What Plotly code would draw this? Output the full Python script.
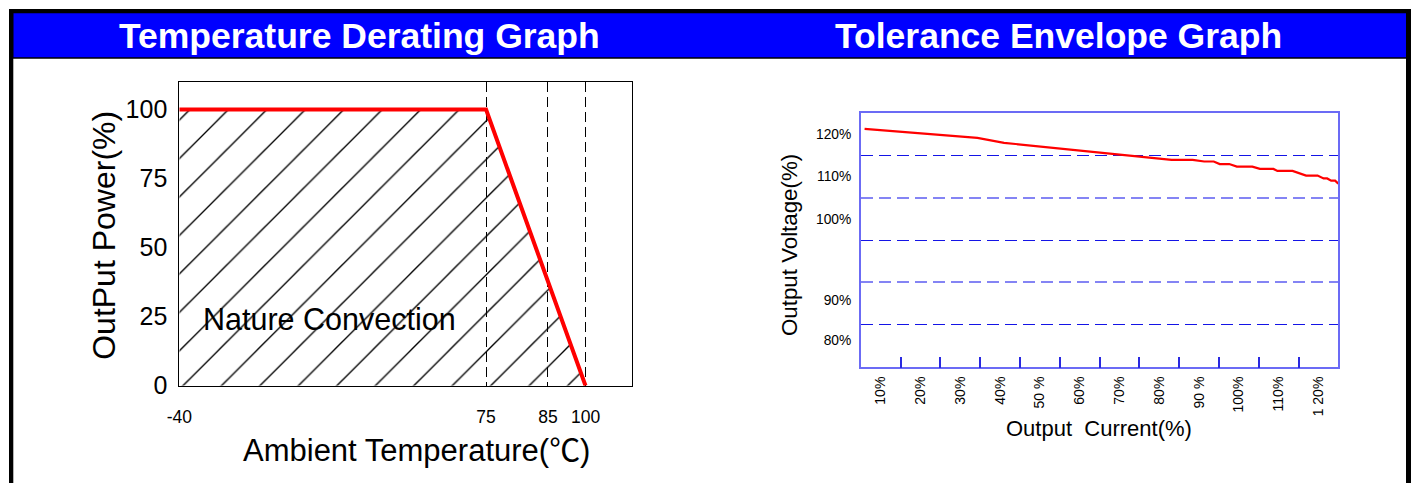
import numpy as np
import plotly.graph_objects as go

# ---------------- data ----------------
# Temperature derating (left)
temp_c = [-40, 75, 100]
power_pct = [100, 100, 0]
temp_tick_labels = [-40, 75, 85, 100]
power_ticks = [0, 25, 50, 75, 100]

# Tolerance envelope (right)
current_pct = [5.95, 34.3, 41.0, 83.1, 88.4, 91.3, 93.7, 95.2, 97.6, 99.5, 103.4,
               105.3, 108.7, 109.7, 113.5, 116.9, 119.8, 121.3, 122.2, 123.2, 124.2, 125.0]
voltage_pct = [121.2, 119.06, 117.9, 113.9, 113.9, 113.5, 113.5, 112.9, 112.9, 112.3, 112.3,
               111.75, 111.75, 111.27, 111.27, 110.17, 110.17, 109.5, 109.5, 108.99, 108.99, 108.28]
current_labels = ["10%", "20%", "30%", "40%", "50 %", "60%", "70%", "80%", "90 %", "100%", "110%", "1 20%"]
current_label_vals = [10, 20, 30, 40, 50, 60, 70, 80, 90, 100, 110, 120]
voltage_labels = ["120%", "110%", "100%", "90%", "80%"]

# ---------------- layout helpers ----------------
W, H = 1411, 483
def px_x(p):
    return p / W
def px_y(p):
    return 1 - p / H

# Left x axis is drawn schematically (non-uniform tick spacing): scale table
T_SCALE = [-40, 75, 85, 100]
T_POS = [0.0, 67.72, 81.37, 89.67]   # percent of axis width
def t_pos(t):
    return list(np.interp(t, T_SCALE, T_POS))

# voltage label anchor positions on the right axis (schematic)
voltage_label_pos = [120, 110, 100, 80.9, 71.3]

FONT = "Arial, Liberation Sans, Noto Sans CJK SC, sans-serif"

fig = go.Figure()

# Left: hatched area + red derating line
fig.add_trace(go.Scatter(
    x=t_pos(temp_c), y=power_pct, mode="lines",
    line=dict(color="#ff0000", width=4),
    fill="tozeroy", fillcolor="rgba(0,0,0,0)",
    fillpattern=dict(shape="/", size=27.2, solidity=0.05,
                     fgcolor="black", fgopacity=1, bgcolor="rgba(0,0,0,0)"),
    xaxis="x", yaxis="y", showlegend=False, hoverinfo="skip"))

# Right: output voltage curve
fig.add_trace(go.Scatter(
    x=current_pct, y=voltage_pct, mode="lines",
    line=dict(color="#ff0000", width=2.2),
    xaxis="x2", yaxis="y2", showlegend=False, hoverinfo="skip"))
# helper (empty) trace to host the grid overlay axis
fig.add_trace(go.Scatter(x=[], y=[], xaxis="x2", yaxis="y3", showlegend=False))

BLUE_BORDER = "#6b6bf5"
GRID_DARK = "#1414e6"
GRID_LIGHT = "#8484f4"

fig.update_layout(
    width=W, height=H, autosize=False,
    margin=dict(l=0, r=0, t=0, b=0, pad=0, autoexpand=False),
    paper_bgcolor="white", plot_bgcolor="white",
    font=dict(family=FONT, color="black"),
    xaxis=dict(
        domain=[px_x(179.3), px_x(632.3)], anchor="y", automargin=False,
        range=[0, 100], tickmode="array",
        tickvals=t_pos(temp_tick_labels), ticktext=[str(v) for v in temp_tick_labels],
        tickfont=dict(size=17.5), ticks="", ticklabelstandoff=15,
        showgrid=True, gridcolor="black", gridwidth=1, griddash="10px,5px",
        showline=True, linecolor="black", linewidth=1, mirror=True,
        zeroline=False, fixedrange=True),
    yaxis=dict(
        domain=[px_y(385.7), px_y(81.7)], anchor="x", automargin=False,
        range=[0, 110.1], tickmode="array", tickvals=power_ticks,
        tickfont=dict(size=25), ticks="", ticklabelstandoff=6,
        showgrid=False, showline=True, linecolor="black", linewidth=1, mirror=True,
        zeroline=False, fixedrange=True),
    xaxis2=dict(
        domain=[px_x(860.8), px_x(1338.3)], anchor="y2", automargin=False,
        range=[5, 125], tickmode="array", tickvals=current_label_vals, ticktext=current_labels,
        tickangle=-90, tickfont=dict(size=14), ticks="", ticklabelstandoff=2,
        minor=dict(tickmode="array", tickvals=[15, 25, 35, 45, 55, 65, 75, 85, 95, 105, 115],
                   ticks="inside", ticklen=11, tickwidth=1.5, tickcolor="#2a2ae0", showgrid=False),
        showgrid=False, showline=True, linecolor=BLUE_BORDER, linewidth=1.5, mirror=True,
        zeroline=False, fixedrange=True),
    yaxis2=dict(
        domain=[px_y(367.3), px_y(112.7)], anchor="x2", automargin=False,
        range=[65, 125], tickmode="array", tickvals=voltage_label_pos, ticktext=voltage_labels,
        tickfont=dict(size=13.8), ticks="", ticklabelstandoff=5,
        showgrid=False, showline=True, linecolor=BLUE_BORDER, linewidth=1.5, mirror=True,
        zeroline=False, fixedrange=True),
    yaxis3=dict(
        overlaying="y2", anchor="x2", range=[65, 125], automargin=False,
        tickmode="array", tickvals=[115, 95, 75], showticklabels=False, ticks="",
        showgrid=True, gridcolor=GRID_DARK, gridwidth=1, griddash="12px,6px",
        minor=dict(tickmode="array", tickvals=[105, 85], showgrid=True,
                   gridcolor=GRID_LIGHT, gridwidth=1.5, griddash="12px,6px"),
        showline=False, zeroline=False, fixedrange=True),
)

# Frame / banner shapes
shapes = [
    dict(type="rect", xref="paper", yref="paper", x0=px_x(9), x1=px_x(1411), y0=px_y(58.7), y1=px_y(9),
         fillcolor="black", line=dict(width=0), layer="below"),
    dict(type="rect", xref="paper", yref="paper", x0=px_x(13.3), x1=px_x(1406), y0=px_y(57.3), y1=px_y(13.3),
         fillcolor="#0000ff", line=dict(width=0), layer="below"),
    dict(type="rect", xref="paper", yref="paper", x0=px_x(9), x1=px_x(13.3), y0=0, y1=px_y(9),
         fillcolor="black", line=dict(width=0), layer="below"),
    dict(type="rect", xref="paper", yref="paper", x0=px_x(1406), x1=1, y0=0, y1=px_y(9),
         fillcolor="black", line=dict(width=0), layer="below"),
]
fig.update_layout(shapes=shapes)

def ann(text, x, y, size, angle=0, color="black", bold=False):
    return dict(text=text, x=px_x(x), y=px_y(y), xref="paper", yref="paper",
                xanchor="center", yanchor="middle", showarrow=False, textangle=angle,
                font=dict(family=FONT, size=size, color=color, weight=700 if bold else 400))

annotations = [
    ann("Temperature Derating Graph", 359.5, 36.2, 35.5, color="white", bold=True),
    ann("Tolerance Envelope Graph", 1058.3, 36.2, 35.5, color="white", bold=True),
    ann("OutPut Power(%)", 104, 235.8, 32, angle=-90),
    ann("Ambient Temperature(℃)", 416.5, 450, 31),
    ann("Nature Convection", 329.2, 319.4, 30.5),
    ann("Output Voltage(%)", 789, 245, 22.3, angle=-90),
    ann("Output\u00a0 Current(%)", 1098.7, 428.7, 22),
]
fig.update_layout(annotations=annotations)

fig.write_html("out.html", include_plotlyjs=True, full_html=True,
               config={"displayModeBar": False, "responsive": False},
               post_script="document.body.style.margin='0';document.body.style.overflow='hidden';")
